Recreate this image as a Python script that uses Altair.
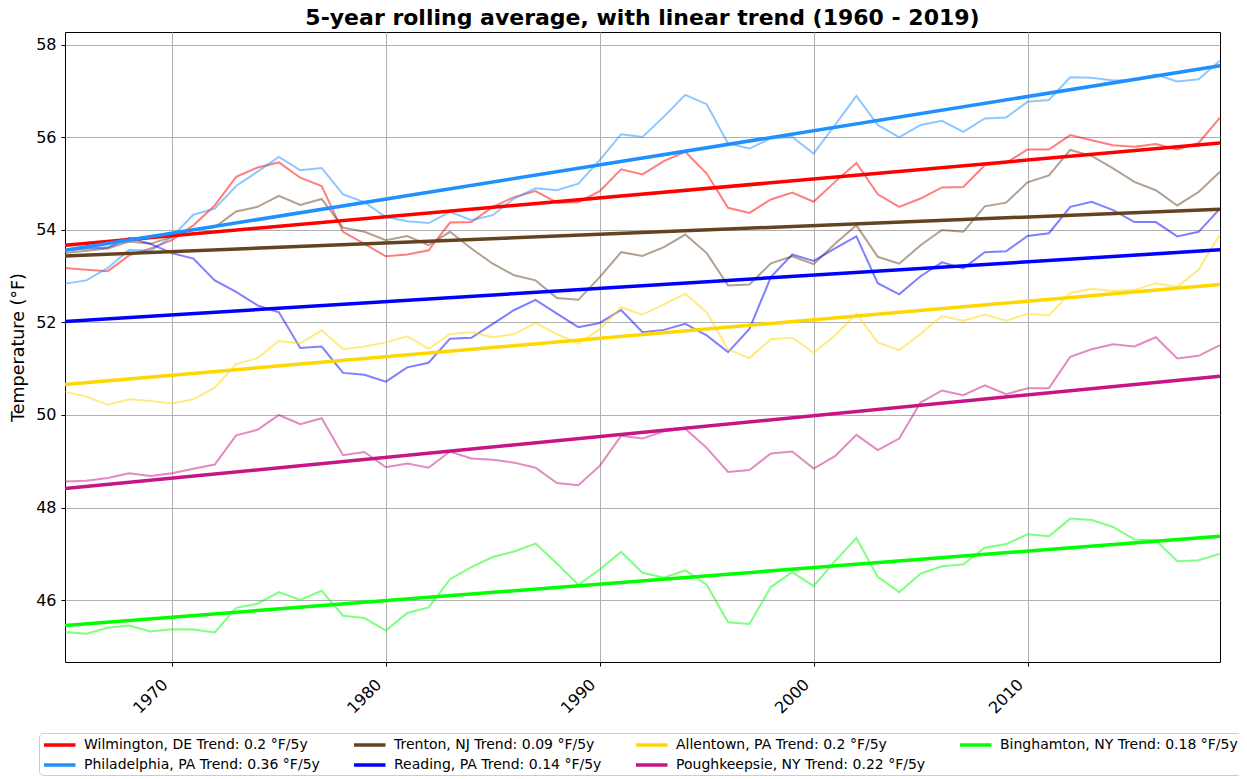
import altair as alt
import pandas as pd

years = list(range(1965, 2020))

cities = ["Wilmington, DE", "Philadelphia, PA", "Trenton, NJ", "Reading, PA",
          "Allentown, PA", "Poughkeepsie, NY", "Binghamton, NY"]
colors = ["#ff0000", "#1e90ff", "#654321", "#0000ff", "#ffd700", "#c71585", "#00ff00"]
trend_rate = ["0.2", "0.36", "0.09", "0.14", "0.2", "0.22", "0.18"]
trend_start = [53.67, 53.56, 53.44, 52.02, 50.66, 48.41, 45.45]
trend_end = [55.88, 57.55, 54.45, 53.57, 52.82, 50.84, 47.38]

wilmington = [53.18, 53.14, 53.11, 53.45, 53.60, 53.78, 54.10, 54.53, 55.15, 55.35,
              55.46, 55.13, 54.95, 53.96, 53.70, 53.43, 53.47, 53.56, 54.16, 54.17,
              54.50, 54.71, 54.84, 54.59, 54.60, 54.84, 55.31, 55.20, 55.49, 55.69,
              55.22, 54.48, 54.37, 54.66, 54.81, 54.61, 55.04, 55.45, 54.77, 54.50,
              54.68, 54.92, 54.93, 55.40, 55.45, 55.74, 55.74, 56.05, 55.94, 55.83,
              55.80, 55.86, 55.74, 55.88, 56.43]
philadelphia = [52.84, 52.91, 53.18, 53.57, 53.55, 53.85, 54.33, 54.46, 54.95, 55.26,
                55.58, 55.29, 55.34, 54.77, 54.60, 54.28, 54.19, 54.15, 54.39, 54.21,
                54.32, 54.68, 54.90, 54.86, 55.00, 55.51, 56.07, 56.01, 56.45, 56.92,
                56.72, 55.87, 55.76, 55.98, 56.01, 55.65, 56.27, 56.90, 56.27, 56.00,
                56.27, 56.36, 56.12, 56.41, 56.43, 56.77, 56.81, 57.30, 57.29, 57.23,
                57.24, 57.36, 57.21, 57.26, 57.66]
trenton = [53.50, 53.55, 53.60, 53.75, 53.70, 53.85, 54.01, 54.06, 54.40, 54.50,
           54.74, 54.54, 54.67, 54.05, 53.96, 53.78, 53.87, 53.67, 53.96, 53.60,
           53.27, 53.02, 52.91, 52.53, 52.49, 52.98, 53.52, 53.44, 53.63, 53.90,
           53.50, 52.80, 52.82, 53.28, 53.43, 53.26, 53.70, 54.10, 53.42, 53.27,
           53.67, 54.00, 53.96, 54.51, 54.59, 55.03, 55.18, 55.73, 55.60, 55.33,
           55.04, 54.86, 54.53, 54.82, 55.26]
reading = [53.56, 53.60, 53.62, 53.83, 53.70, 53.50, 53.38, 52.91, 52.66, 52.37,
           52.22, 51.45, 51.48, 50.91, 50.87, 50.72, 51.03, 51.13, 51.65, 51.67,
           51.97, 52.27, 52.49, 52.19, 51.90, 51.99, 52.27, 51.79, 51.84, 51.97,
           51.72, 51.36, 51.86, 52.98, 53.47, 53.33, 53.60, 53.86, 52.85, 52.61,
           53.00, 53.30, 53.17, 53.52, 53.54, 53.87, 53.93, 54.50, 54.61, 54.43,
           54.17, 54.17, 53.86, 53.96, 54.46]
allentown = [50.50, 50.40, 50.22, 50.34, 50.30, 50.25, 50.34, 50.59, 51.10, 51.23,
             51.60, 51.55, 51.83, 51.42, 51.48, 51.57, 51.70, 51.43, 51.75, 51.79,
             51.68, 51.75, 51.99, 51.75, 51.54, 51.86, 52.33, 52.17, 52.39, 52.62,
             52.22, 51.42, 51.23, 51.64, 51.67, 51.35, 51.72, 52.19, 51.57, 51.40,
             51.75, 52.14, 52.04, 52.17, 52.04, 52.19, 52.15, 52.64, 52.73, 52.68,
             52.70, 52.85, 52.77, 53.14, 53.91]
poughkeepsie = [48.56, 48.58, 48.64, 48.74, 48.68, 48.74, 48.84, 48.93, 49.56, 49.68,
                50.00, 49.80, 49.93, 49.13, 49.20, 48.87, 48.95, 48.86, 49.21, 49.06,
                49.03, 48.97, 48.86, 48.53, 48.48, 48.90, 49.55, 49.49, 49.65, 49.70,
                49.29, 48.77, 48.81, 49.17, 49.21, 48.84, 49.11, 49.57, 49.24, 49.49,
                50.27, 50.53, 50.43, 50.64, 50.45, 50.58, 50.58, 51.26, 51.42, 51.53,
                51.48, 51.68, 51.22, 51.28, 51.51]
binghamton = [45.31, 45.27, 45.40, 45.45, 45.32, 45.37, 45.36, 45.30, 45.83, 45.92,
              46.17, 46.00, 46.20, 45.66, 45.61, 45.34, 45.72, 45.84, 46.45, 46.71,
              46.93, 47.05, 47.22, 46.79, 46.33, 46.66, 47.04, 46.59, 46.48, 46.64,
              46.33, 45.52, 45.48, 46.28, 46.60, 46.30, 46.84, 47.34, 46.50, 46.17,
              46.57, 46.73, 46.77, 47.13, 47.21, 47.42, 47.38, 47.76, 47.73, 47.58,
              47.31, 47.29, 46.84, 46.86, 47.00]

series = [wilmington, philadelphia, trenton, reading, allentown, poughkeepsie, binghamton]

labels = [f"{c} Trend: {r} \u00b0F/5y" for c, r in zip(cities, trend_rate)]

rows = []
for c, vals in zip(cities, series):
    for y, v in zip(years, vals):
        rows.append({"year": y, "city": c, "temp": v})
rolling = pd.DataFrame(rows)

trows = []
for lab, s, e in zip(labels, trend_start, trend_end):
    trows.append({"year": years[0], "label": lab, "temp": s})
    trows.append({"year": years[-1], "label": lab, "temp": e})
trend = pd.DataFrame(trows)

FONT = "DejaVu Sans"

x_enc = alt.X("year:Q",
              scale=alt.Scale(domain=[1965, 2019], nice=False, zero=False),
              axis=alt.Axis(values=[1970, 1980, 1990, 2000, 2010], format="d", title=None,
                            labelAngle=-45, labelAlign="right", labelBaseline="top",
                            labelFontSize=16, labelPadding=10, labelOffset=-13))
y_enc = alt.Y("temp:Q",
              scale=alt.Scale(domain=[44.66, 58.28], nice=False, zero=False),
              axis=alt.Axis(values=[46, 48, 50, 52, 54, 56, 58], format="d",
                            title="Temperature (\u00b0F)", titleFontSize=17.5,
                            titleFontWeight="normal", labelFontSize=16, labelPadding=5,
                            titlePadding=8))

faint = alt.Chart(rolling).mark_line(strokeWidth=2, opacity=0.5).encode(
    x=x_enc, y=y_enc,
    color=alt.Color("city:N", scale=alt.Scale(domain=cities, range=colors), legend=None),
    detail="city:N",
)

trend_layer = alt.Chart(trend).mark_line(strokeWidth=3.5).encode(
    x=x_enc, y=y_enc,
    color=alt.Color("label:N", scale=alt.Scale(domain=labels, range=colors),
                    sort=labels,
                    legend=alt.Legend(orient="none", legendX=-26, legendY=701, columns=4,
                                      direction="vertical",
                                      title=None, symbolType="M-1,0H3.5", symbolSize=196,
                                      symbolStrokeWidth=3.5, labelFontSize=14,
                                      labelFont=FONT, labelColor="black", labelLimit=0,
                                      labelOffset=24, columnPadding=27, rowPadding=4,
                                      padding=3, strokeColor="#cccccc", cornerRadius=4,
                                      fillColor="white")),
)

chart = alt.layer(faint, trend_layer).resolve_scale(color="independent").properties(
    width=1155, height=630,
    autosize=alt.AutoSizeParams(type="none"),
    padding={"left": 57, "top": 24, "right": 19, "bottom": 117},
    title=alt.Title("5-year rolling average, with linear trend (1960 - 2019)",
                    fontSize=22, fontWeight="bold", font=FONT, anchor="middle",
                    offset=2, color="black"),
).configure_axis(
    labelFont=FONT, titleFont=FONT, labelColor="black", titleColor="black",
    grid=True, gridColor="#b0b0b0", gridWidth=1, domain=False,
    tickColor="black", tickSize=4, tickWidth=1,
).configure_view(
    stroke="black", strokeWidth=1,
)

chart.save("out.html", embed_options={"renderer": "svg", "actions": False})
